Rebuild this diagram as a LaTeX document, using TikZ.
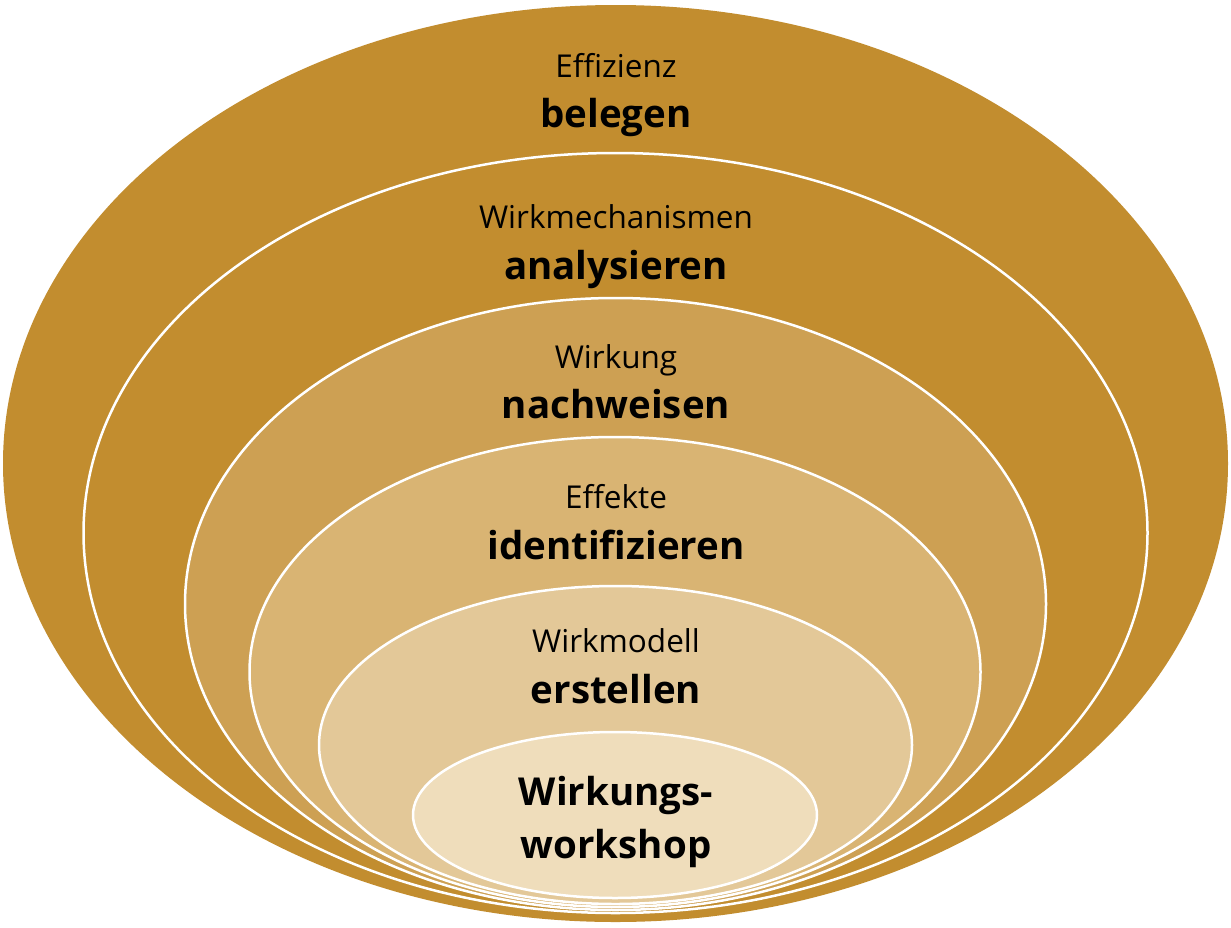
\documentclass[tikz,border=0pt]{standalone}
\usepackage{fontspec}
\setmainfont{Open Sans}
\definecolor{c1}{RGB}{194,141,47}
\definecolor{c3}{RGB}{205,160,83}
\definecolor{c4}{RGB}{217,180,115}
\definecolor{c5}{RGB}{227,200,152}
\definecolor{c6}{RGB}{239,221,187}
\tikzset{
  ring/.style={draw=white, line width=2.5pt},
  thin/.style={font=\fontsize{31.5}{34}\selectfont, anchor=base, inner sep=0pt},
  thick/.style={font=\fontsize{38.5}{42}\selectfont\bfseries, anchor=base, inner sep=0pt},
}
\begin{document}
\begin{tikzpicture}[x=1pt,y=-1pt]
\useasboundingbox (0,0) rectangle (1231,927);
\fill[white] (0,0) rectangle (1231,927);
\fill[c1] (615.5,463.5) ellipse [x radius=612.5, y radius=458.5];
\filldraw[fill=c1, ring] (615.5,533) ellipse [x radius=532, y radius=380];
\filldraw[fill=c3, ring] (615.5,604) ellipse [x radius=430.5, y radius=306];
\filldraw[fill=c4, ring] (615,672) ellipse [x radius=365.5, y radius=235];
\filldraw[fill=c5, ring] (615.5,745) ellipse [x radius=296.5, y radius=159];
\filldraw[fill=c6, ring] (615,815) ellipse [x radius=202, y radius=83];
\node[thin]  (t1) at (616,77)  {Effizienz};
\node[thick] (b1) at (616,127) {belegen};
\node[thin]  (t2) at (616,228) {Wirkmechanismen};
\node[thick] (b2) at (616,279) {analysieren};
\node[thin]  (t3) at (616,368) {Wirkung};
\node[thick] (b3) at (616,418) {nachweisen};
\node[thin]  (t4) at (616,508) {Effekte};
\node[thick] (b4) at (616,559) {identifizieren};
\node[thin]  (t5) at (616,652) {Wirkmodell};
\node[thick] (b5) at (616,703) {erstellen};
\node[thick] (b6) at (616,805) {Wirkungs-};
\node[thick] (b7) at (616,858) {workshop};
\end{tikzpicture}
\end{document}
